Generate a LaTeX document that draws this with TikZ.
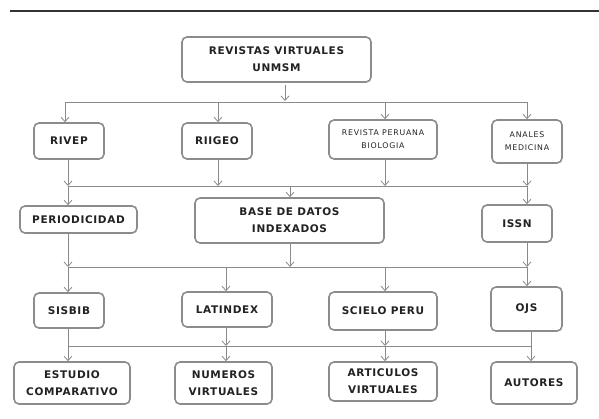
\documentclass[tikz,border=0pt]{standalone}
\usepackage{fontspec}
\setmainfont{DejaVu Sans}
\usetikzlibrary{arrows.meta}
\definecolor{boxgray}{HTML}{8C8C8C}
\definecolor{linegray}{HTML}{8A8A8A}
\definecolor{txt}{HTML}{222222}
\definecolor{rule}{HTML}{333333}
\begin{document}
\begin{tikzpicture}[x=1pt,y=-1pt,
  box/.style={draw=boxgray,line width=1.6pt,rounded corners=5pt,fill=white,
    align=center,text=txt,inner sep=0pt,
    font=\fontsize{10.5}{17}\selectfont\bfseries\addfontfeatures{LetterSpace=6}},
  smallbox/.style={box,font=\fontsize{7.8}{13}\selectfont\addfontfeatures{LetterSpace=10}},
  conn/.style={draw=linegray,line width=0.8pt},
  arr/.style={conn,-{Straight Barb[length=4.5pt,width=8pt]}},
]
\useasboundingbox (0,0) rectangle (599,418);
\draw[rule,line width=2.2pt] (10,11) -- (599,11);

% nodes
\node[box,minimum width=189pt,minimum height=45pt] (top) at (276.5,59.5) {REVISTAS VIRTUALES\\UNMSM};
\node[box,minimum width=70pt,minimum height=36pt] (rivep) at (69,141) {RIVEP};
\node[box,minimum width=70pt,minimum height=36pt] (riigeo) at (217,141) {RIIGEO};
\node[smallbox,minimum width=108pt,minimum height=39pt] (rpb) at (383,139.5) {REVISTA PERUANA\\BIOLOGIA};
\node[smallbox,minimum width=70pt,minimum height=43pt] (anales) at (527,141.5) {ANALES\\MEDICINA};
\node[box,minimum width=117pt,minimum height=27pt] (period) at (78.5,219.5) {PERIODICIDAD};
\node[box,minimum width=189pt,minimum height=45pt] (base) at (289.5,220.5) {BASE DE DATOS\\INDEXADOS};
\node[box,minimum width=70pt,minimum height=37pt] (issn) at (517,223.5) {ISSN};
\node[box,minimum width=70pt,minimum height=35pt] (sisbib) at (69,310.5) {SISBIB};
\node[box,minimum width=90pt,minimum height=35pt] (latindex) at (227,309.5) {LATINDEX};
\node[box,minimum width=108pt,minimum height=38pt] (scielo) at (383,311) {SCIELO PERU};
\node[box,minimum width=71pt,minimum height=44pt] (ojs) at (526.5,309) {OJS};
\node[box,minimum width=116pt,minimum height=42pt] (estudio) at (72,383) {ESTUDIO\\COMPARATIVO};
\node[box,minimum width=97pt,minimum height=42pt] (numeros) at (223.5,383) {NUMEROS\\VIRTUALES};
\node[box,minimum width=108pt,minimum height=39pt] (articulos) at (383,381.5) {ARTICULOS\\VIRTUALES};
\node[box,minimum width=86pt,minimum height=42pt] (autores) at (534,383) {AUTORES};

% bus coordinates
\coordinate (b1l) at (65,102);
\coordinate (b1r) at (527,102);
\coordinate (b2l) at (68,186);
\coordinate (b2r) at (527,186);
\coordinate (b3l) at (68,267);
\coordinate (b3r) at (527,267);
\coordinate (b4l) at (68,346);
\coordinate (b4r) at (531,346);

% level 1
\draw[conn] (b1l) -- (b1r);
\draw[arr] (top.south -| 285,0) ++(0,2) -- (285,101);
\draw[arr] (b1l) -- (b1l |- rivep.north);
\draw[arr] (218,102) -- (riigeo.north -| 218,0);
\draw[arr] (385,102) -- (rpb.north -| 385,0);
\draw[arr] (b1r) -- (b1r |- anales.north);

% level 2
\draw[conn] (b2l) -- (b2r);
\draw[arr] (rivep.south -| b2l) -- (b2l);
\draw[arr] (riigeo.south -| 218,0) -- (218,186);
\draw[arr] (rpb.south -| 385,0) -- (385,186);
\draw[arr] (anales.south -| b2r) -- (b2r);
\draw[arr] (b2l) -- (b2l |- period.north);
\draw[arr] (290,186) -- (base.north -| 290,0);
\draw[arr] (b2r) -- (b2r |- issn.north);

% level 3
\draw[conn] (b3l) -- (b3r);
\draw[arr] (period.south -| b3l) -- (b3l);
\draw[arr] (base.south -| 290,0) -- (290,267);
\draw[arr] (issn.south -| b3r) -- (b3r);
\draw[arr] (b3l) -- (b3l |- sisbib.north);
\draw[arr] (226,267) -- (latindex.north -| 226,0);
\draw[arr] (385,267) -- (scielo.north -| 385,0);
\draw[arr] (b3r) -- (b3r |- ojs.north);

% level 4
\draw[conn] (b4l) -- (b4r);
\draw[conn] (sisbib.south -| b4l) -- (b4l);
\draw[arr] (latindex.south -| 226,0) -- (226,346);
\draw[arr] (scielo.south -| 385,0) -- (385,346);
\draw[conn] (ojs.south -| b4r) -- (b4r);
\draw[arr] (b4l) -- (b4l |- estudio.north);
\draw[arr] (226,346) -- (numeros.north -| 226,0);
\draw[arr] (385,346) -- (articulos.north -| 385,0);
\draw[arr] (b4r) -- (b4r |- autores.north);
\end{tikzpicture}
\end{document}
